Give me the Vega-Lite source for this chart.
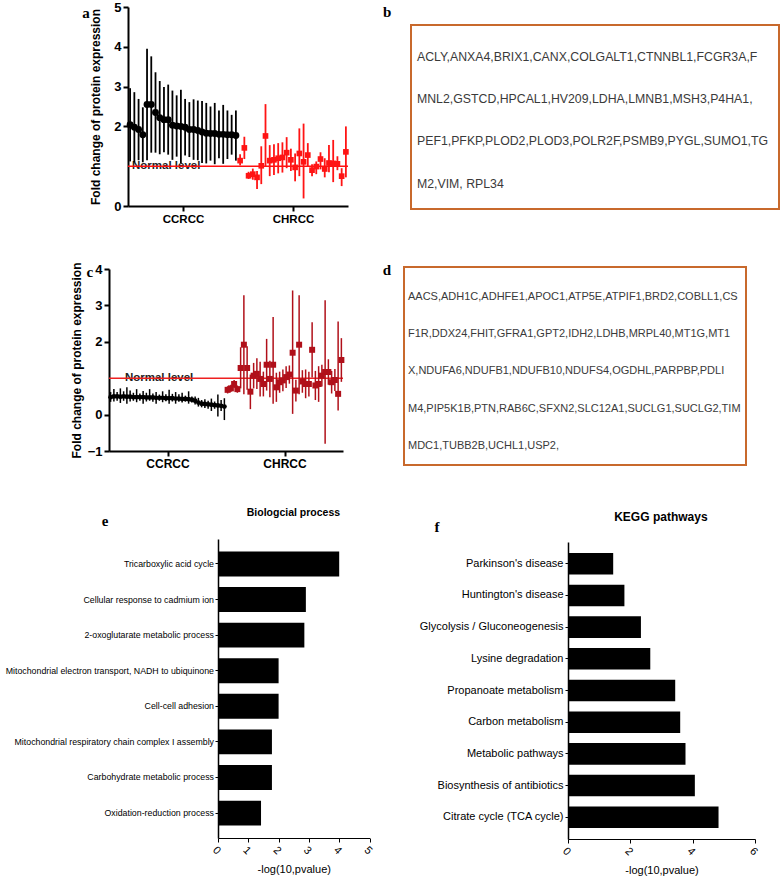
{
  "$schema": "https://vega.github.io/schema/vega-lite/v6.json",
  "width": 784,
  "height": 883,
  "autosize": {"type": "none"},
  "padding": 0,
  "background": "white",
  "config": {
    "view": {"stroke": null},
    "axis": {"grid": false, "domainColor": "#000", "tickColor": "#000", "labelColor": "#000", "titleColor": "#000", "labelOverlap": false, "labelFlush": false}
  },
  "datasets": {
    "a": [
      {"i":0,"type":"CCRCC","mean":2.04,"lo":1.12,"hi":2.96},
      {"i":1,"type":"CCRCC","mean":1.98,"lo":1.10,"hi":2.86},
      {"i":2,"type":"CCRCC","mean":1.92,"lo":1.15,"hi":2.69},
      {"i":3,"type":"CCRCC","mean":1.79,"lo":1.10,"hi":2.48},
      {"i":4,"type":"CCRCC","mean":2.55,"lo":1.15,"hi":3.95},
      {"i":5,"type":"CCRCC","mean":2.55,"lo":1.34,"hi":3.76},
      {"i":6,"type":"CCRCC","mean":2.35,"lo":1.34,"hi":3.36},
      {"i":7,"type":"CCRCC","mean":2.22,"lo":1.30,"hi":3.14},
      {"i":8,"type":"CCRCC","mean":2.17,"lo":1.35,"hi":2.99},
      {"i":9,"type":"CCRCC","mean":2.17,"lo":1.29,"hi":3.05},
      {"i":10,"type":"CCRCC","mean":2.03,"lo":1.16,"hi":2.90},
      {"i":11,"type":"CCRCC","mean":2.01,"lo":1.24,"hi":2.78},
      {"i":12,"type":"CCRCC","mean":2.00,"lo":1.08,"hi":2.92},
      {"i":13,"type":"CCRCC","mean":1.98,"lo":1.27,"hi":2.69},
      {"i":14,"type":"CCRCC","mean":1.92,"lo":1.23,"hi":2.61},
      {"i":15,"type":"CCRCC","mean":1.92,"lo":1.16,"hi":2.68},
      {"i":16,"type":"CCRCC","mean":1.90,"lo":1.15,"hi":2.65},
      {"i":17,"type":"CCRCC","mean":1.86,"lo":1.08,"hi":2.64},
      {"i":18,"type":"CCRCC","mean":1.83,"lo":1.07,"hi":2.59},
      {"i":19,"type":"CCRCC","mean":1.82,"lo":1.14,"hi":2.50},
      {"i":20,"type":"CCRCC","mean":1.82,"lo":1.05,"hi":2.59},
      {"i":21,"type":"CCRCC","mean":1.80,"lo":1.20,"hi":2.40},
      {"i":22,"type":"CCRCC","mean":1.80,"lo":1.06,"hi":2.54},
      {"i":23,"type":"CCRCC","mean":1.79,"lo":1.18,"hi":2.40},
      {"i":24,"type":"CCRCC","mean":1.79,"lo":1.29,"hi":2.29},
      {"i":25,"type":"CCRCC","mean":1.77,"lo":1.14,"hi":2.40},
      {"i":26,"type":"CHRCC","mean":1.14,"lo":1.02,"hi":1.30},
      {"i":27,"type":"CHRCC","mean":1.46,"lo":1.18,"hi":1.74},
      {"i":28,"type":"CHRCC","mean":0.76,"lo":0.68,"hi":0.86},
      {"i":29,"type":"CHRCC","mean":0.80,"lo":0.66,"hi":0.94},
      {"i":30,"type":"CHRCC","mean":0.72,"lo":0.43,"hi":0.88},
      {"i":31,"type":"CHRCC","mean":1.01,"lo":0.55,"hi":1.50},
      {"i":32,"type":"CHRCC","mean":1.76,"lo":0.99,"hi":2.56},
      {"i":33,"type":"CHRCC","mean":1.14,"lo":0.75,"hi":1.53},
      {"i":34,"type":"CHRCC","mean":1.16,"lo":0.78,"hi":1.55},
      {"i":35,"type":"CHRCC","mean":1.20,"lo":0.82,"hi":1.58},
      {"i":36,"type":"CHRCC","mean":1.22,"lo":0.84,"hi":1.60},
      {"i":37,"type":"CHRCC","mean":1.34,"lo":0.95,"hi":1.73},
      {"i":38,"type":"CHRCC","mean":1.16,"lo":0.88,"hi":1.44},
      {"i":39,"type":"CHRCC","mean":0.97,"lo":0.62,"hi":1.32},
      {"i":40,"type":"CHRCC","mean":1.32,"lo":0.75,"hi":1.95},
      {"i":41,"type":"CHRCC","mean":1.11,"lo":0.19,"hi":2.07},
      {"i":42,"type":"CHRCC","mean":1.28,"lo":0.98,"hi":1.58},
      {"i":43,"type":"CHRCC","mean":0.90,"lo":0.75,"hi":1.05},
      {"i":44,"type":"CHRCC","mean":0.99,"lo":0.80,"hi":1.12},
      {"i":45,"type":"CHRCC","mean":1.18,"lo":0.92,"hi":1.35},
      {"i":46,"type":"CHRCC","mean":0.93,"lo":0.72,"hi":1.20},
      {"i":47,"type":"CHRCC","mean":1.08,"lo":0.85,"hi":1.53},
      {"i":48,"type":"CHRCC","mean":1.07,"lo":0.60,"hi":1.66},
      {"i":49,"type":"CHRCC","mean":1.06,"lo":0.90,"hi":1.25},
      {"i":50,"type":"CHRCC","mean":0.75,"lo":0.50,"hi":0.95},
      {"i":51,"type":"CHRCC","mean":1.36,"lo":0.72,"hi":2.00}
    ],
    "c": [
      {"i":0,"type":"CCRCC","mean":0.48,"lo":0.35,"hi":0.62},
      {"i":1,"type":"CCRCC","mean":0.50,"lo":0.36,"hi":0.70},
      {"i":2,"type":"CCRCC","mean":0.50,"lo":0.38,"hi":0.62},
      {"i":3,"type":"CCRCC","mean":0.49,"lo":0.32,"hi":0.72},
      {"i":4,"type":"CCRCC","mean":0.50,"lo":0.38,"hi":0.64},
      {"i":5,"type":"CCRCC","mean":0.49,"lo":0.30,"hi":0.75},
      {"i":6,"type":"CCRCC","mean":0.49,"lo":0.36,"hi":0.66},
      {"i":7,"type":"CCRCC","mean":0.48,"lo":0.38,"hi":0.60},
      {"i":8,"type":"CCRCC","mean":0.48,"lo":0.34,"hi":0.70},
      {"i":9,"type":"CCRCC","mean":0.48,"lo":0.38,"hi":0.58},
      {"i":10,"type":"CCRCC","mean":0.48,"lo":0.30,"hi":0.65},
      {"i":11,"type":"CCRCC","mean":0.47,"lo":0.36,"hi":0.60},
      {"i":12,"type":"CCRCC","mean":0.47,"lo":0.38,"hi":0.70},
      {"i":13,"type":"CCRCC","mean":0.47,"lo":0.35,"hi":0.58},
      {"i":14,"type":"CCRCC","mean":0.46,"lo":0.30,"hi":0.62},
      {"i":15,"type":"CCRCC","mean":0.46,"lo":0.38,"hi":0.55},
      {"i":16,"type":"CCRCC","mean":0.46,"lo":0.34,"hi":0.64},
      {"i":17,"type":"CCRCC","mean":0.45,"lo":0.37,"hi":0.56},
      {"i":18,"type":"CCRCC","mean":0.45,"lo":0.30,"hi":0.68},
      {"i":19,"type":"CCRCC","mean":0.45,"lo":0.36,"hi":0.57},
      {"i":20,"type":"CCRCC","mean":0.44,"lo":0.30,"hi":0.62},
      {"i":21,"type":"CCRCC","mean":0.44,"lo":0.35,"hi":0.56},
      {"i":22,"type":"CCRCC","mean":0.43,"lo":0.33,"hi":0.60},
      {"i":23,"type":"CCRCC","mean":0.43,"lo":0.36,"hi":0.52},
      {"i":24,"type":"CCRCC","mean":0.42,"lo":0.30,"hi":0.64},
      {"i":25,"type":"CCRCC","mean":0.41,"lo":0.33,"hi":0.50},
      {"i":26,"type":"CCRCC","mean":0.38,"lo":0.28,"hi":0.50},
      {"i":27,"type":"CCRCC","mean":0.33,"lo":0.22,"hi":0.46},
      {"i":28,"type":"CCRCC","mean":0.30,"lo":0.20,"hi":0.40},
      {"i":29,"type":"CCRCC","mean":0.29,"lo":0.18,"hi":0.42},
      {"i":30,"type":"CCRCC","mean":0.28,"lo":0.16,"hi":0.38},
      {"i":31,"type":"CCRCC","mean":0.27,"lo":0.10,"hi":0.44},
      {"i":32,"type":"CCRCC","mean":0.26,"lo":0.16,"hi":0.36},
      {"i":33,"type":"CCRCC","mean":0.25,"lo":-0.05,"hi":0.55},
      {"i":34,"type":"CCRCC","mean":0.24,"lo":0.10,"hi":0.40},
      {"i":35,"type":"CCRCC","mean":0.22,"lo":-0.15,"hi":0.45},
      {"i":36,"type":"CHRCC","mean":0.68,"lo":0.58,"hi":0.78},
      {"i":37,"type":"CHRCC","mean":0.72,"lo":0.62,"hi":0.82},
      {"i":38,"type":"CHRCC","mean":0.84,"lo":0.73,"hi":0.95},
      {"i":39,"type":"CHRCC","mean":0.70,"lo":0.60,"hi":0.80},
      {"i":40,"type":"CHRCC","mean":1.28,"lo":0.72,"hi":1.85},
      {"i":41,"type":"CHRCC","mean":1.92,"lo":0.56,"hi":3.28},
      {"i":42,"type":"CHRCC","mean":1.28,"lo":0.68,"hi":1.88},
      {"i":43,"type":"CHRCC","mean":0.63,"lo":0.15,"hi":1.10},
      {"i":44,"type":"CHRCC","mean":1.07,"lo":0.72,"hi":1.42},
      {"i":45,"type":"CHRCC","mean":1.12,"lo":0.70,"hi":1.55},
      {"i":46,"type":"CHRCC","mean":0.98,"lo":0.50,"hi":1.45},
      {"i":47,"type":"CHRCC","mean":0.84,"lo":0.50,"hi":1.18},
      {"i":48,"type":"CHRCC","mean":1.37,"lo":0.66,"hi":2.08},
      {"i":49,"type":"CHRCC","mean":0.98,"lo":0.48,"hi":1.48},
      {"i":50,"type":"CHRCC","mean":1.37,"lo":0.30,"hi":2.68},
      {"i":51,"type":"CHRCC","mean":0.75,"lo":0.35,"hi":1.15},
      {"i":52,"type":"CHRCC","mean":0.89,"lo":0.60,"hi":1.18},
      {"i":53,"type":"CHRCC","mean":0.94,"lo":0.64,"hi":1.24},
      {"i":54,"type":"CHRCC","mean":1.03,"lo":0.73,"hi":1.33},
      {"i":55,"type":"CHRCC","mean":1.10,"lo":0.85,"hi":1.35},
      {"i":56,"type":"CHRCC","mean":1.70,"lo":0.02,"hi":3.41},
      {"i":57,"type":"CHRCC","mean":0.66,"lo":0.36,"hi":0.96},
      {"i":58,"type":"CHRCC","mean":1.92,"lo":0.56,"hi":3.28},
      {"i":59,"type":"CHRCC","mean":0.91,"lo":0.60,"hi":1.22},
      {"i":60,"type":"CHRCC","mean":0.84,"lo":0.45,"hi":1.24},
      {"i":61,"type":"CHRCC","mean":0.84,"lo":0.50,"hi":1.18},
      {"i":62,"type":"CHRCC","mean":1.78,"lo":1.02,"hi":2.54},
      {"i":63,"type":"CHRCC","mean":0.80,"lo":0.40,"hi":1.20},
      {"i":64,"type":"CHRCC","mean":0.84,"lo":0.35,"hi":1.33},
      {"i":65,"type":"CHRCC","mean":1.07,"lo":0.77,"hi":1.37},
      {"i":66,"type":"CHRCC","mean":1.17,"lo":-0.80,"hi":3.14},
      {"i":67,"type":"CHRCC","mean":1.17,"lo":0.82,"hi":1.52},
      {"i":68,"type":"CHRCC","mean":0.89,"lo":0.58,"hi":1.20},
      {"i":69,"type":"CHRCC","mean":0.95,"lo":0.65,"hi":1.25},
      {"i":70,"type":"CHRCC","mean":0.57,"lo":0.11,"hi":2.56},
      {"i":71,"type":"CHRCC","mean":1.50,"lo":0.90,"hi":2.10}
    ],
    "b": [
      {"line":1,"text":"ACLY,ANXA4,BRIX1,CANX,COLGALT1,CTNNBL1,FCGR3A,F"},
      {"line":2,"text":"MNL2,GSTCD,HPCAL1,HV209,LDHA,LMNB1,MSH3,P4HA1,"},
      {"line":3,"text":"PEF1,PFKP,PLOD2,PLOD3,POLR2F,PSMB9,PYGL,SUMO1,TG"},
      {"line":4,"text":"M2,VIM, RPL34"}
    ],
    "d": [
      {"line":1,"text":"AACS,ADH1C,ADHFE1,APOC1,ATP5E,ATPIF1,BRD2,COBLL1,CS"},
      {"line":2,"text":"F1R,DDX24,FHIT,GFRA1,GPT2,IDH2,LDHB,MRPL40,MT1G,MT1"},
      {"line":3,"text":"X,NDUFA6,NDUFB1,NDUFB10,NDUFS4,OGDHL,PARPBP,PDLI"},
      {"line":4,"text":"M4,PIP5K1B,PTN,RAB6C,SFXN2,SLC12A1,SUCLG1,SUCLG2,TIM"},
      {"line":5,"text":"MDC1,TUBB2B,UCHL1,USP2,"}
    ],
    "e": [
      {"term":"Tricarboxylic acid cycle","value":4.0},
      {"term":"Cellular response to cadmium ion","value":2.9},
      {"term":"2-oxoglutarate metabolic process","value":2.85},
      {"term":"Mitochondrial electron transport, NADH to ubiquinone","value":2.0},
      {"term":"Cell-cell adhesion","value":2.0},
      {"term":"Mitochondrial respiratory chain complex I assembly","value":1.78},
      {"term":"Carbohydrate metabolic process","value":1.78},
      {"term":"Oxidation-reduction process","value":1.42}
    ],
    "f": [
      {"pathway":"Parkinson's disease","value":1.45},
      {"pathway":"Huntington's disease","value":1.81},
      {"pathway":"Glycolysis / Gluconeogenesis","value":2.34},
      {"pathway":"Lysine degradation","value":2.64},
      {"pathway":"Propanoate metabolism","value":3.44},
      {"pathway":"Carbon metabolism","value":3.6},
      {"pathway":"Metabolic pathways","value":3.77},
      {"pathway":"Biosynthesis of antibiotics","value":4.07},
      {"pathway":"Citrate cycle (TCA cycle)","value":4.83}
    ]
  },
  "layer": [
    {
      "layer": [
        {
          "data": {"values": [{"label": "Normal level"}]},
          "mark": {"type": "text", "align": "left", "baseline": "middle", "font": "Liberation Sans", "fontWeight": "bold", "fontSize": 11.5, "color": "#222"},
          "encoding": {
            "x": {"datum": 0.45, "type": "quantitative", "scale": {"domain": [-0.5, 51.5], "range": [128, 348], "nice": false, "zero": false},
              "axis": {"orient": "bottom", "offset": -677, "values": [12.5, 38.5], "labelExpr": "datum.value < 26 ? 'CCRCC' : 'CHRCC'", "labelFont": "Liberation Sans", "labelFontWeight": "bold", "labelFontSize": 11.5, "labelPadding": 2, "tickSize": 5, "tickWidth": 2, "domainWidth": 2, "title": null}},
            "y": {"datum": 1, "type": "quantitative", "scale": {"domain": [0, 5], "range": [206, 7], "nice": false, "zero": false},
              "axis": {"orient": "left", "offset": -128, "values": [0, 2, 3, 4, 5], "format": "d", "labelFont": "Liberation Sans", "labelFontWeight": "bold", "labelFontSize": 13, "labelPadding": 2, "tickSize": 5, "tickWidth": 2, "domainWidth": 2, "title": "Fold change of protein expression", "titleFont": "Liberation Sans", "titleFontWeight": "bold", "titleFontSize": 12, "titlePadding": 11}},
            "text": {"field": "label"}
          }
        },
        {
          "data": {"values": [{"label": "Normal level"}]},
          "mark": {"type": "rule", "color": "#ff1010", "strokeWidth": 1.5},
          "encoding": {"x": {"datum": -0.5}, "x2": {"datum": 51.5}, "y": {"datum": 1}}
        },
        {
          "data": {"name": "a"},
          "mark": {"type": "rule", "strokeWidth": 1.8},
          "encoding": {
            "x": {"field": "i", "type": "quantitative"},
            "y": {"field": "lo", "type": "quantitative"},
            "y2": {"field": "hi"},
            "color": {"field": "type", "type": "nominal", "scale": {"domain": ["CCRCC", "CHRCC"], "range": ["#000000", "#ff1414"]}, "legend": null}
          }
        },
        {
          "data": {"name": "a"},
          "mark": {"type": "point", "filled": true, "opacity": 1},
          "encoding": {
            "x": {"field": "i", "type": "quantitative"},
            "y": {"field": "mean", "type": "quantitative"},
            "color": {"field": "type", "type": "nominal", "legend": null},
            "shape": {"field": "type", "type": "nominal", "scale": {"domain": ["CCRCC", "CHRCC"], "range": ["circle", "square"]}, "legend": null},
            "size": {"field": "type", "type": "nominal", "scale": {"domain": ["CCRCC", "CHRCC"], "range": [48, 32]}, "legend": null}
          }
        },
        {
          "data": {"values": [{"label": "a"}]},
          "mark": {"type": "text", "font": "Liberation Serif", "fontWeight": "bold", "fontSize": 15, "align": "center", "baseline": "middle", "color": "#000"},
          "encoding": {"x": {"datum": -10.4}, "y": {"datum": 4.84}, "text": {"field": "label"}}
        }
      ]
    },
    {
      "layer": [
        {
          "data": {"values": [{"box": "b"}]},
          "mark": {"type": "rect", "fill": "transparent", "stroke": "#c8692c", "strokeWidth": 2},
          "encoding": {
            "x": {"datum": 0, "type": "quantitative", "scale": {"domain": [0, 1], "range": [411, 779], "nice": false, "zero": false}, "axis": null},
            "x2": {"datum": 1},
            "y": {"datum": 0.242, "type": "quantitative", "scale": {"domain": [0.242, 4.602], "range": [25, 209], "nice": false, "zero": false}, "axis": null},
            "y2": {"datum": 4.602}
          }
        },
        {
          "data": {"name": "b"},
          "mark": {"type": "text", "align": "left", "baseline": "middle", "font": "Liberation Sans", "fontSize": 12.3, "dx": 6, "color": "#3a3a3a"},
          "encoding": {"x": {"datum": 0}, "y": {"field": "line", "type": "quantitative"}, "text": {"field": "text"}}
        },
        {
          "data": {"values": [{"label": "b"}]},
          "mark": {"type": "text", "font": "Liberation Serif", "fontWeight": "bold", "fontSize": 15, "align": "center", "baseline": "middle", "color": "#000"},
          "encoding": {"x": {"datum": -0.065}, "y": {"datum": -0.066}, "text": {"field": "label"}}
        }
      ]
    },
    {
      "layer": [
        {
          "data": {"values": [{"label": "Normal level"}]},
          "mark": {"type": "text", "align": "left", "baseline": "middle", "font": "Liberation Sans", "fontWeight": "bold", "fontSize": 11.5, "color": "#222"},
          "encoding": {
            "x": {"datum": 4.4, "type": "quantitative", "scale": {"domain": [-0.5, 71.5], "range": [109, 343], "nice": false, "zero": false},
              "axis": {"orient": "bottom", "offset": -432, "values": [17.5, 53.5], "labelExpr": "datum.value < 36 ? 'CCRCC' : 'CHRCC'", "labelFont": "Liberation Sans", "labelFontWeight": "bold", "labelFontSize": 12, "labelPadding": 2, "tickSize": 5, "tickWidth": 2, "domainWidth": 2, "title": null}},
            "y": {"datum": 1, "type": "quantitative", "scale": {"domain": [-1, 4], "range": [451, 269], "nice": false, "zero": false},
              "axis": {"orient": "left", "offset": -109, "values": [-1, 0, 2, 3, 4], "format": "d", "labelFont": "Liberation Sans", "labelFontWeight": "bold", "labelFontSize": 13, "labelPadding": 2, "tickSize": 5, "tickWidth": 2, "domainWidth": 2, "title": "Fold change of protein expression", "titleFont": "Liberation Sans", "titleFontWeight": "bold", "titleFontSize": 12, "titlePadding": 4}},
            "text": {"field": "label"}
          }
        },
        {
          "data": {"values": [{"label": "Normal level"}]},
          "mark": {"type": "rule", "color": "#ee2020", "strokeWidth": 1.5},
          "encoding": {"x": {"datum": -0.5}, "x2": {"datum": 71.5}, "y": {"datum": 1}}
        },
        {
          "data": {"name": "c"},
          "mark": {"type": "rule", "strokeWidth": 1.5},
          "encoding": {
            "x": {"field": "i", "type": "quantitative"},
            "y": {"field": "lo", "type": "quantitative"},
            "y2": {"field": "hi"},
            "color": {"field": "type", "type": "nominal", "scale": {"domain": ["CCRCC", "CHRCC"], "range": ["#000000", "#b0101a"]}, "legend": null}
          }
        },
        {
          "data": {"name": "c"},
          "mark": {"type": "point", "filled": true, "opacity": 1},
          "encoding": {
            "x": {"field": "i", "type": "quantitative"},
            "y": {"field": "mean", "type": "quantitative"},
            "color": {"field": "type", "type": "nominal", "legend": null},
            "shape": {"field": "type", "type": "nominal", "scale": {"domain": ["CCRCC", "CHRCC"], "range": ["circle", "square"]}, "legend": null},
            "size": {"field": "type", "type": "nominal", "scale": {"domain": ["CCRCC", "CHRCC"], "range": [24, 36]}, "legend": null}
          }
        },
        {
          "data": {"values": [{"label": "c"}]},
          "mark": {"type": "text", "font": "Liberation Serif", "fontWeight": "bold", "fontSize": 15, "align": "center", "baseline": "middle", "color": "#000"},
          "encoding": {"x": {"datum": -6.4}, "y": {"datum": 3.92}, "text": {"field": "label"}}
        }
      ]
    },
    {
      "layer": [
        {
          "data": {"values": [{"box": "d"}]},
          "mark": {"type": "rect", "fill": "transparent", "stroke": "#c8692c", "strokeWidth": 2},
          "encoding": {
            "x": {"datum": 0, "type": "quantitative", "scale": {"domain": [0, 1], "range": [404, 746], "nice": false, "zero": false}, "axis": null},
            "x2": {"datum": 1},
            "y": {"datum": 0.195, "type": "quantitative", "scale": {"domain": [0.195, 5.51], "range": [267, 465], "nice": false, "zero": false}, "axis": null},
            "y2": {"datum": 5.51}
          }
        },
        {
          "data": {"name": "d"},
          "mark": {"type": "text", "align": "left", "baseline": "middle", "font": "Liberation Sans", "fontSize": 11, "dx": 4, "color": "#3a3a3a"},
          "encoding": {"x": {"datum": 0}, "y": {"field": "line", "type": "quantitative"}, "text": {"field": "text"}}
        },
        {
          "data": {"values": [{"label": "d"}]},
          "mark": {"type": "text", "font": "Liberation Serif", "fontWeight": "bold", "fontSize": 15, "align": "center", "baseline": "middle", "color": "#000"},
          "encoding": {"x": {"datum": -0.05}, "y": {"datum": 0.275}, "text": {"field": "label"}}
        }
      ]
    },
    {
      "layer": [
        {
          "data": {"name": "e"},
          "mark": {"type": "bar", "color": "#000"},
          "encoding": {
            "x": {"field": "value", "type": "quantitative", "scale": {"domain": [0, 5], "range": [218, 369.5], "nice": false},
              "axis": {"orient": "bottom", "offset": -45, "values": [0, 1, 2, 3, 4, 5], "format": "d", "labelAngle": 45, "labelFont": "Liberation Sans", "labelFontSize": 11, "tickSize": 4, "domainWidth": 1.2, "title": "-log(10,pvalue)", "titleFont": "Liberation Sans", "titleFontWeight": "normal", "titleFontSize": 11, "titlePadding": 7}},
            "y": {"field": "term", "type": "nominal", "sort": null, "scale": {"range": [539, 838], "paddingInner": 0.3, "paddingOuter": 0.35},
              "axis": {"orient": "left", "offset": -218, "labelFont": "Liberation Sans", "labelFontSize": 8.8, "labelPadding": 1.5, "labelLimit": 0, "tickSize": 3, "domainWidth": 1.5, "title": null}}
          }
        },
        {
          "data": {"values": [{"label": "Biologcial process"}]},
          "mark": {"type": "text", "font": "Liberation Sans", "fontWeight": "bold", "fontSize": 10.5, "align": "center", "baseline": "middle", "color": "#000"},
          "encoding": {"x": {"datum": 2.49}, "y": {"datum": -0.087, "type": "quantitative", "scale": {"domain": [0, 1], "range": [539, 838], "nice": false, "zero": false}, "axis": null}, "text": {"field": "label"}}
        },
        {
          "data": {"values": [{"label": "e"}]},
          "mark": {"type": "text", "font": "Liberation Serif", "fontWeight": "bold", "fontSize": 15, "align": "center", "baseline": "middle", "color": "#000"},
          "encoding": {"x": {"datum": -3.73}, "y": {"datum": -0.06, "type": "quantitative", "scale": {"domain": [0, 1], "range": [539, 838], "nice": false, "zero": false}, "axis": null}, "text": {"field": "label"}}
        }
      ],
      "resolve": {"scale": {"y": "independent"}}
    },
    {
      "layer": [
        {
          "data": {"name": "f"},
          "mark": {"type": "bar", "color": "#000"},
          "encoding": {
            "x": {"field": "value", "type": "quantitative", "scale": {"domain": [0, 6], "range": [568, 755], "nice": false},
              "axis": {"orient": "bottom", "offset": -44, "values": [0, 2, 4, 6], "format": "d", "labelAngle": 45, "labelFont": "Liberation Sans", "labelFontSize": 11, "tickSize": 4, "domainWidth": 1.2, "title": "-log(10,pvalue)", "titleFont": "Liberation Sans", "titleFontWeight": "normal", "titleFontSize": 11, "titlePadding": 7}},
            "y": {"field": "pathway", "type": "nominal", "sort": null, "scale": {"range": [542, 839], "paddingInner": 0.32, "paddingOuter": 0.345},
              "axis": {"orient": "left", "offset": -568, "labelFont": "Liberation Sans", "labelFontSize": 11, "labelPadding": 2, "labelLimit": 0, "tickSize": 3, "domainWidth": 1.5, "title": null}}
          }
        },
        {
          "data": {"values": [{"label": "KEGG pathways"}]},
          "mark": {"type": "text", "font": "Liberation Sans", "fontWeight": "bold", "fontSize": 12, "align": "center", "baseline": "middle", "color": "#000"},
          "encoding": {"x": {"datum": 2.98}, "y": {"datum": -0.084, "type": "quantitative", "scale": {"domain": [0, 1], "range": [542, 839], "nice": false, "zero": false}, "axis": null}, "text": {"field": "label"}}
        },
        {
          "data": {"values": [{"label": "f"}]},
          "mark": {"type": "text", "font": "Liberation Serif", "fontWeight": "bold", "fontSize": 15, "align": "center", "baseline": "middle", "color": "#000"},
          "encoding": {"x": {"datum": -4.2}, "y": {"datum": -0.05, "type": "quantitative", "scale": {"domain": [0, 1], "range": [542, 839], "nice": false, "zero": false}, "axis": null}, "text": {"field": "label"}}
        }
      ],
      "resolve": {"scale": {"y": "independent"}}
    }
  ],
  "resolve": {
    "scale": {"x": "independent", "y": "independent", "color": "independent", "shape": "independent", "size": "independent"},
    "axis": {"x": "independent", "y": "independent"}
  }
}
